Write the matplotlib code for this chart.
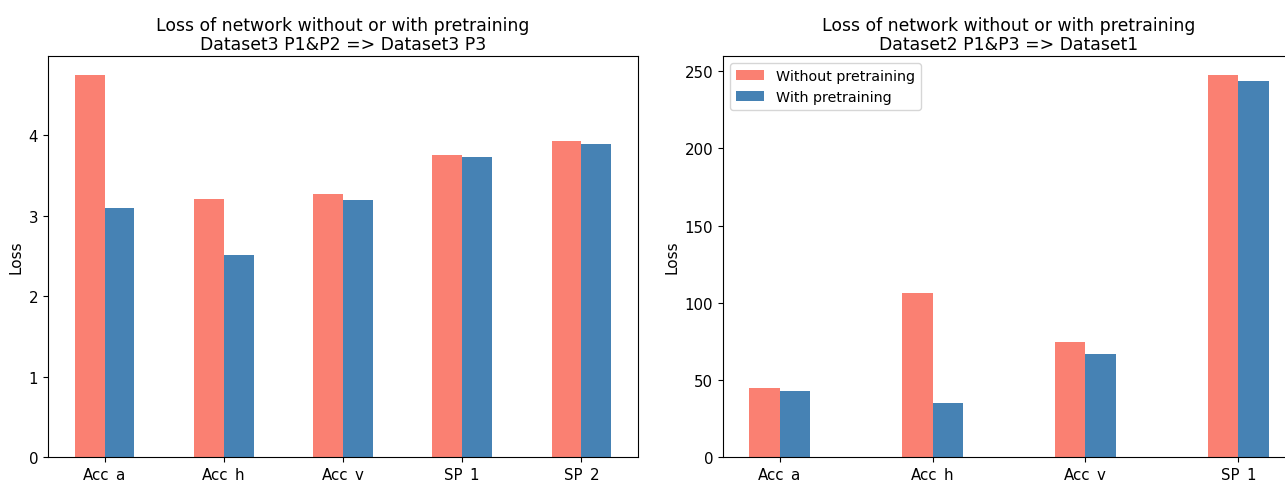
import numpy as np
import matplotlib
matplotlib.use("Agg")
import matplotlib.pyplot as plt

# left chart: Dataset3 P1&P2 => Dataset3 P3
cats_left = ["Acc_a", "Acc_h", "Acc_v", "SP_1", "SP_2"]
without_left = [4.745, 3.205, 3.27, 3.75, 3.93]
with_left = [3.09, 2.51, 3.19, 3.73, 3.89]

# right chart: Dataset2 P1&P3 => Dataset1
cats_right = ["Acc_a", "Acc_h", "Acc_v", "SP_1"]
without_right = [44.7, 106.2, 74.5, 247.5]
with_right = [42.7, 35.0, 66.7, 243.5]

W, H = 1285, 481
fig = plt.figure(figsize=(W / 100, H / 100), dpi=100)

def px_axes(x0, x1, y0, y1):
    return fig.add_axes([x0 / W, 1 - y1 / H, (x1 - x0) / W, (y1 - y0) / H])

ax1 = px_axes(48, 638, 57, 458)
ax2 = px_axes(723, 1295, 57, 458)

def draw(ax, cats, a, b, width, title):
    x = np.arange(len(cats))
    ax.bar(x - width / 2, a, width, color="salmon", label="Without pretraining")
    ax.bar(x + width / 2, b, width, color="steelblue", label="With pretraining")
    ax.set_xticks(x)
    ax.set_xticklabels(cats)
    ax.set_ylabel("Loss", fontsize=11)
    ax.set_title(title, fontsize=12.4, linespacing=1.05, pad=5)
    ax.tick_params(labelsize=10.8)

draw(ax1, cats_left, without_left, with_left, 0.25,
     "Loss of network without or with pretraining\nDataset3 P1&P2 => Dataset3 P3")
draw(ax2, cats_right, without_right, with_right, 0.2,
     "Loss of network without or with pretraining\nDataset2 P1&P3 => Dataset1")
ax2.legend(loc="upper left", fontsize=10.3)

fig.savefig("out.png", dpi=100)
